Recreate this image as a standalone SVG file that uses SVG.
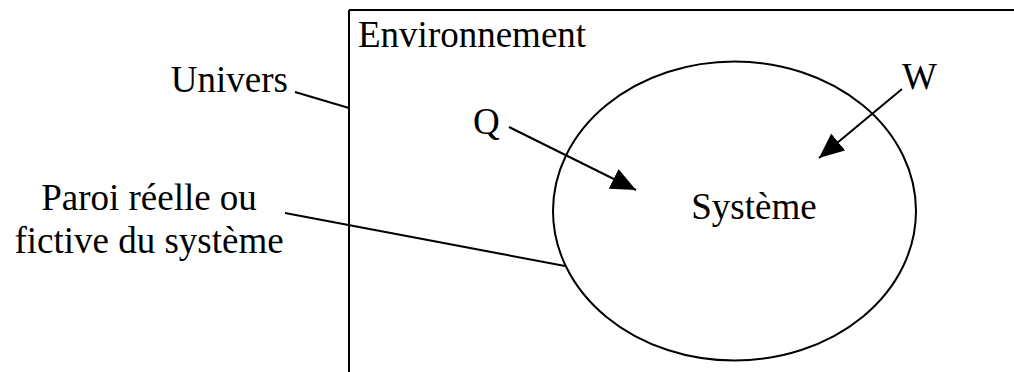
<svg xmlns="http://www.w3.org/2000/svg" width="1014" height="372" viewBox="0 0 1014 372">
<style>
text{font-family:'Liberation Serif','DejaVu Serif',serif;font-size:37px;fill:#000}
.s{fill:none;stroke:#000;stroke-width:2}
</style>
<defs>
<marker id="ah" viewBox="0 0 25 22" refX="25" refY="11" markerWidth="25" markerHeight="22" markerUnits="userSpaceOnUse" orient="auto"><path d="M0,0 L25,11 L0,22 Z" fill="#000"/></marker>
</defs>
<rect width="1014" height="372" fill="#fff"/>
<g id="univers">
<path class="s" d="M349,10 H1016 M349,10 V374"/>
<text x="288" y="92" text-anchor="end">Univers</text>
</g>
<g id="environnement">
<text x="358" y="47">Environnement</text>
</g>
<g id="systeme">
<ellipse class="s" cx="734.5" cy="211" rx="181.5" ry="149.5"/>
<text x="754" y="219" text-anchor="middle">Système</text>
</g>
<g id="paroi">
<text x="149" y="210" text-anchor="middle">Paroi réelle ou</text>
<text x="149" y="253" text-anchor="middle">fictive du système</text>
</g>
<g id="Q"><text x="473" y="134">Q</text></g>
<g id="W"><text x="902" y="89">W</text></g>
<g id="connectors">
<line class="s" x1="295" y1="92" x2="349" y2="108"/>
<line class="s" x1="285" y1="213" x2="565" y2="266"/>
<line class="s" x1="509" y1="127" x2="636" y2="190" marker-end="url(#ah)"/>
<line class="s" x1="902" y1="89" x2="819" y2="158" marker-end="url(#ah)"/>
</g>
</svg>
